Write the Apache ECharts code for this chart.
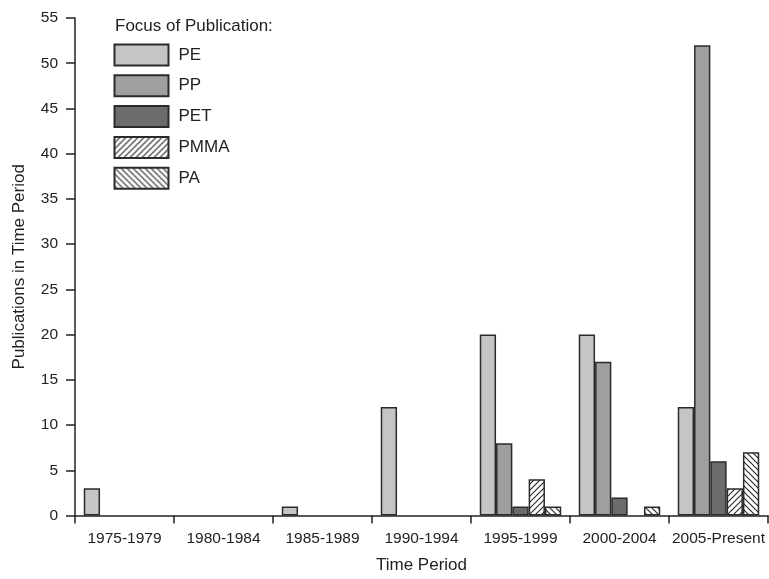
<!DOCTYPE html>
<html>
<head>
<meta charset="utf-8">
<script src="https://cdn.jsdelivr.net/npm/echarts@6/dist/echarts.min.js"></script>
<style>
  html, body { margin: 0; padding: 0; background: #fff; }
  #chart { width: 769px; height: 579px; }
</style>
</head>
<body>
<div id="chart"></div>
<script>
// Publication counts per five-year period, by polymer
const periods = ['1975-1979', '1980-1984', '1985-1989', '1990-1994', '1995-1999', '2000-2004', '2005-Present'];
const pe   = [3, 0, 1, 12, 20, 20, 12];
const pp   = [0, 0, 0, 0, 8, 17, 52];
const pet  = [0, 0, 0, 0, 1, 2, 6];
const pmma = [0, 0, 0, 0, 4, 0, 3];
const pa   = [0, 0, 0, 0, 1, 1, 7];
const yTicks = { min: 0, max: 55, step: 5 };

// Diagonal hatch tile; dir = 1 for "/", -1 for "\"
function hatch(dir) {
  const s = 6;
  const c = document.createElement('canvas');
  c.width = s; c.height = s;
  const g = c.getContext('2d');
  g.fillStyle = '#fff';
  g.fillRect(0, 0, s, s);
  g.strokeStyle = '#2e2e2e';
  g.lineWidth = 1.2;
  g.beginPath();
  if (dir > 0) {
    g.moveTo(-1, s + 1); g.lineTo(s + 1, -1);
    g.moveTo(-1, 1); g.lineTo(1, -1);
    g.moveTo(s - 1, s + 1); g.lineTo(s + 1, s - 1);
  } else {
    g.moveTo(-1, -1); g.lineTo(s + 1, s + 1);
    g.moveTo(s - 1, -1); g.lineTo(s + 1, 1);
    g.moveTo(-1, s - 1); g.lineTo(1, s + 1);
  }
  g.stroke();
  return { image: c, repeat: 'repeat' };
}

const border = { borderColor: '#2b2b2b', borderWidth: 1.5 };
const fills = [
  '#c5c5c5',
  '#9f9f9f',
  '#6c6c6c',
  hatch(1),
  hatch(-1)
];
const names = ['PE', 'PP', 'PET', 'PMMA', 'PA'];
const values = [pe, pp, pet, pmma, pa];

const font = 'Liberation Sans, Arial, Helvetica, sans-serif';
const ink = '#222';
const chart = echarts.init(document.getElementById('chart'), null, { renderer: 'canvas' });

chart.setOption({
  animation: false,
  backgroundColor: '#fff',
  textStyle: { fontFamily: font, color: ink },
  title: {
    text: 'Focus of Publication:',
    left: 115, top: 18,
    padding: 0,
    textStyle: { fontFamily: font, fontSize: 17, fontWeight: 'normal', color: ink }
  },
  legend: {
    orient: 'vertical',
    left: 113.5, top: 43.5,
    padding: 0,
    itemWidth: 54, itemHeight: 21,
    itemGap: 7.8,
    icon: 'rect',
    data: names,
    textStyle: { fontFamily: font, fontSize: 17, color: ink, lineHeight: 21, padding: [0, 0, 0, 5] }
  },
  grid: { left: 75, right: 1, top: 18, bottom: 62, containLabel: false },
  xAxis: {
    type: 'category',
    data: periods,
    name: 'Time Period',
    nameLocation: 'middle',
    nameGap: 41.5,
    nameTextStyle: { fontFamily: font, fontSize: 17, color: ink },
    axisLine: { lineStyle: { color: ink, width: 1.5 } },
    axisTick: { show: true, length: 8, lineStyle: { color: ink, width: 1.5 } },
    axisLabel: { interval: 0, fontFamily: font, fontSize: 15.5, color: ink, margin: 15 }
  },
  yAxis: {
    type: 'value',
    min: yTicks.min, max: yTicks.max, interval: yTicks.step,
    name: 'Publications in Time Period',
    nameLocation: 'middle',
    nameGap: 47.5,
    nameTextStyle: { fontFamily: font, fontSize: 17, color: ink },
    splitLine: { show: false },
    axisLine: { show: true, lineStyle: { color: ink, width: 1.5 } },
    axisTick: { show: true, length: 9, lineStyle: { color: ink, width: 1.5 } },
    axisLabel: { fontFamily: font, fontSize: 15.5, color: ink, margin: 17 }
  },
  series: names.map((n, i) => ({
    name: n,
    type: 'bar',
    data: values[i].map(v => (v === 0 ? null : v)),
    barWidth: 16.3,
    barGap: '0%',
    itemStyle: Object.assign({ color: fills[i] }, border)
  }))
});
</script>
</body>
</html>
